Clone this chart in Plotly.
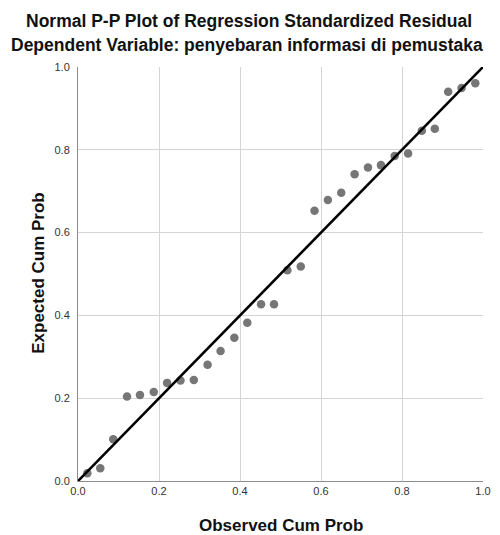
import plotly.graph_objects as go

observed = [0.023, 0.055, 0.087, 0.121, 0.153, 0.187, 0.220, 0.253, 0.286, 0.320,
            0.352, 0.386, 0.418, 0.452, 0.484, 0.517, 0.550, 0.584, 0.617, 0.650,
            0.683, 0.716, 0.748, 0.782, 0.815, 0.849, 0.881, 0.914, 0.947, 0.981]
expected = [0.019, 0.031, 0.101, 0.204, 0.208, 0.215, 0.237, 0.243, 0.244, 0.281,
            0.314, 0.346, 0.382, 0.427, 0.427, 0.509, 0.518, 0.653, 0.679, 0.696,
            0.741, 0.757, 0.763, 0.785, 0.791, 0.846, 0.851, 0.940, 0.949, 0.961]
ref_line = [0.0, 1.0]
tick_vals = [0.0, 0.2, 0.4, 0.6, 0.8, 1.0]
tick_text = ["0.0", "0.2", "0.4", "0.6", "0.8", "1.0"]

title1 = "Normal P-P Plot of Regression Standardized Residual"
title2 = "Dependent Variable: penyebaran informasi di pemustaka"
x_title = "Observed Cum Prob"
y_title = "Expected Cum Prob"

W, H = 500, 535
L, R, T, B = 78, 9, 67, 54
PW, PH = W - L - R, H - T - B


def px(xp):
    return (xp - L) / PW


def py(yp):
    return (H - B - yp) / PH


fig = go.Figure()
fig.add_trace(go.Scatter(x=observed, y=expected, mode="markers",
                         marker=dict(color="#767676", size=8.5, line=dict(width=0)),
                         showlegend=False, hoverinfo="x+y"))
fig.add_trace(go.Scatter(x=ref_line, y=ref_line, mode="lines",
                         line=dict(color="#000000", width=2.6),
                         showlegend=False, hoverinfo="skip"))

font_family = "Liberation Sans, Arial, sans-serif"
axis_common = dict(range=[0, 1], tickvals=tick_vals, ticktext=tick_text,
                   showgrid=True, gridcolor="#d4d4d4", gridwidth=1,
                   zeroline=False, showline=True, linecolor="#8c8c8c", linewidth=1,
                   ticks="", tickfont=dict(family=font_family, size=11, color="#333333"),
                   mirror=False, fixedrange=True)

ann = dict(xref="paper", yref="paper", showarrow=False, xanchor="center", yanchor="middle")

fig.update_layout(
    width=W, height=H,
    margin=dict(l=L, r=R, t=T, b=B),
    paper_bgcolor="white", plot_bgcolor="white",
    xaxis=dict(**axis_common),
    yaxis=dict(**axis_common, ticklabelstandoff=5),
    font=dict(family=font_family, color="#000000"),
    annotations=[
        dict(text="<b>%s</b>" % title1, x=px(252), y=py(21),
             font=dict(size=17.5, color="#111111", family=font_family), **ann),
        dict(text="<b>%s</b>" % title2, x=px(250), y=py(45),
             font=dict(size=17.5, color="#111111", family=font_family), **ann),
        dict(text="<b>%s</b>" % x_title, x=px(285), y=py(525),
             font=dict(size=17, color="#111111", family=font_family), **ann),
        dict(text="<b>%s</b>" % y_title, x=px(37), y=py(273), textangle=-90,
             font=dict(size=17, color="#111111", family=font_family), **ann),
    ],
)

fig.write_html("out.html", config={"displayModeBar": False},
               post_script="document.body.style.margin='0';")
